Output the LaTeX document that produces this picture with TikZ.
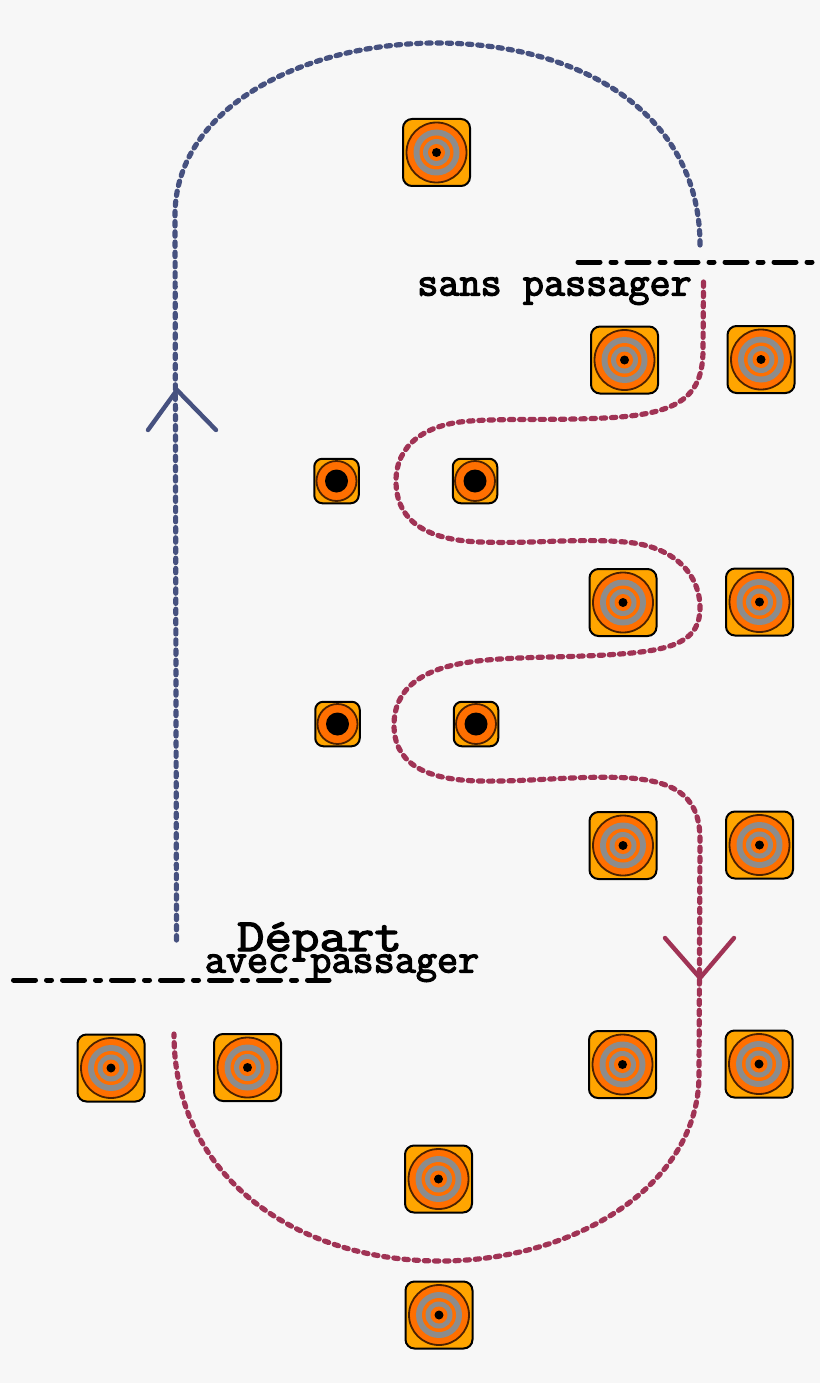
\documentclass[tikz,border=0pt]{standalone}
\usepackage{fontspec}
\newfontfamily\slabfont[FakeBold=3]{Latin Modern Mono}
\newfontfamily\slabwide[FakeBold=3,FakeStretch=1.16]{Latin Modern Mono}
\definecolor{bg}{HTML}{F7F7F7}
\definecolor{cone}{HTML}{FFA500}
\definecolor{ring}{HTML}{FF6F00}
\definecolor{grayring}{HTML}{8C8C8C}
\definecolor{blueline}{HTML}{46517F}
\definecolor{redline}{HTML}{A03355}
\tikzset{
  conebase/.style={draw=black,line width=2pt,fill=cone,rounded corners=9pt,minimum size=67pt,inner sep=0pt},
  smallbase/.style={draw=black,line width=2pt,fill=cone,rounded corners=8pt,minimum size=44.5pt,inner sep=0pt},
  route/.style={line width=5.2pt,line cap=round,dash pattern=on 4.4pt off 5.8pt},
  chevron/.style={line width=4.4pt,line cap=round,line join=miter},
  limit/.style={line width=5pt,line cap=round,dash pattern=on 22pt off 11pt on 5pt off 11pt},
  txt/.style={font=\slabfont\fontsize{41pt}{41pt}\selectfont,inner sep=0pt,text=black},
}
\newcommand{\bigcone}[3]{%
  \node[conebase] (#1) at (#2,#3) {};
  \fill[draw=black!70!ring,line width=1.8pt,fill=ring] (#1.center) circle (30pt);
  \fill[grayring] (#1.center) circle (23pt);
  \fill[ring] (#1.center) circle (17pt);
  \fill[grayring] (#1.center) circle (13.5pt);
  \fill[ring] (#1.center) circle (8.5pt);
  \fill[black] (#1.center) circle (4.5pt);
}
\newcommand{\smallcone}[3]{%
  \node[smallbase] (#1) at (#2,#3) {};
  \fill[draw=black!70!ring,line width=1.8pt,fill=ring] (#1.center) circle (20pt);
  \fill[black] (#1.center) circle (11.5pt);
}
\begin{document}
\begin{tikzpicture}[x=1pt,y=-1pt]
\useasboundingbox[fill=bg] (0,0) rectangle (820,1383);
\bigcone{c1}{436.5}{152.5}
\bigcone{c2}{624.5}{360}
\bigcone{c3}{761}{359.5}
\smallcone{s1}{336.5}{481}
\smallcone{s2}{475}{481}
\bigcone{c4}{623}{602.5}
\bigcone{c5}{759.5}{602}
\smallcone{s3}{337.5}{724}
\smallcone{s4}{476}{724}
\bigcone{c6}{623}{845.5}
\bigcone{c7}{759.5}{845}
\bigcone{c8}{111}{1068}
\bigcone{c9}{247.5}{1067.5}
\bigcone{c10}{622.5}{1064.5}
\bigcone{c11}{759}{1064}
\bigcone{c12}{438.5}{1179}
\bigcone{c13}{439}{1315}
% blue route
\coordinate (bstart) at (176.5,940);
\coordinate (bend) at (700,245);
\draw[route,draw=blueline] (bstart) -- (175,215)
  .. controls (175,110) and (300,43) .. (437,43)
  .. controls (575,43) and (700,110) .. (bend);
% red route
\coordinate (rstart) at (703.5,282);
\coordinate (rend) at (174,1034);
\draw[route,draw=redline] (rstart) -- (703,350)
  .. controls (703,395) and (680,412) .. (620,417)
  .. controls (570,421) and (510,418) .. (470,421)
  .. controls (425,424) and (396,445) .. (396,481)
  .. controls (396,520) and (425,540) .. (480,542)
  .. controls (530,544) and (580,538) .. (625,542)
  .. controls (675,546) and (700,575) .. (700,608)
  .. controls (700,640) and (675,650) .. (620,654)
  .. controls (570,658) and (510,656) .. (470,662)
  .. controls (420,669) and (394,690) .. (394,725)
  .. controls (394,760) and (420,780) .. (480,781)
  .. controls (530,782) and (580,775) .. (630,778)
  .. controls (680,782) and (700,800) .. (700,840)
  -- (699,1075)
  .. controls (699,1185) and (575,1261) .. (440,1261)
  .. controls (300,1261) and (174,1180) .. (rend);
% arrowheads
\coordinate (ba) at (148,430);
\coordinate (bt) at (177,390);
\coordinate (bb) at (216,430);
\draw[chevron,draw=blueline] (ba) -- (bt) -- (bb);
\coordinate (ra) at (665,938);
\coordinate (rt) at (700,978);
\coordinate (rb) at (734,938);
\draw[chevron,draw=redline] (ra) -- (rt) -- (rb);
% lines
\coordinate (l1a) at (578,262);
\coordinate (l1b) at (812,262);
\draw[limit] (l1a) -- (l1b);
\coordinate (l2a) at (13.5,980);
\coordinate (l2b) at (329,980);
\draw[limit] (l2a) -- (l2b);
% texts
\node[txt,anchor=base] (t1) at (554.5,295.5) {sans passager};
\node[txt,anchor=base,font=\slabwide\fontsize{46pt}{46pt}\selectfont] (t2) at (319.5,951) {Départ};
\node[txt,anchor=base] (t3) at (342,972.5) {avec passager};
\end{tikzpicture}
\end{document}
